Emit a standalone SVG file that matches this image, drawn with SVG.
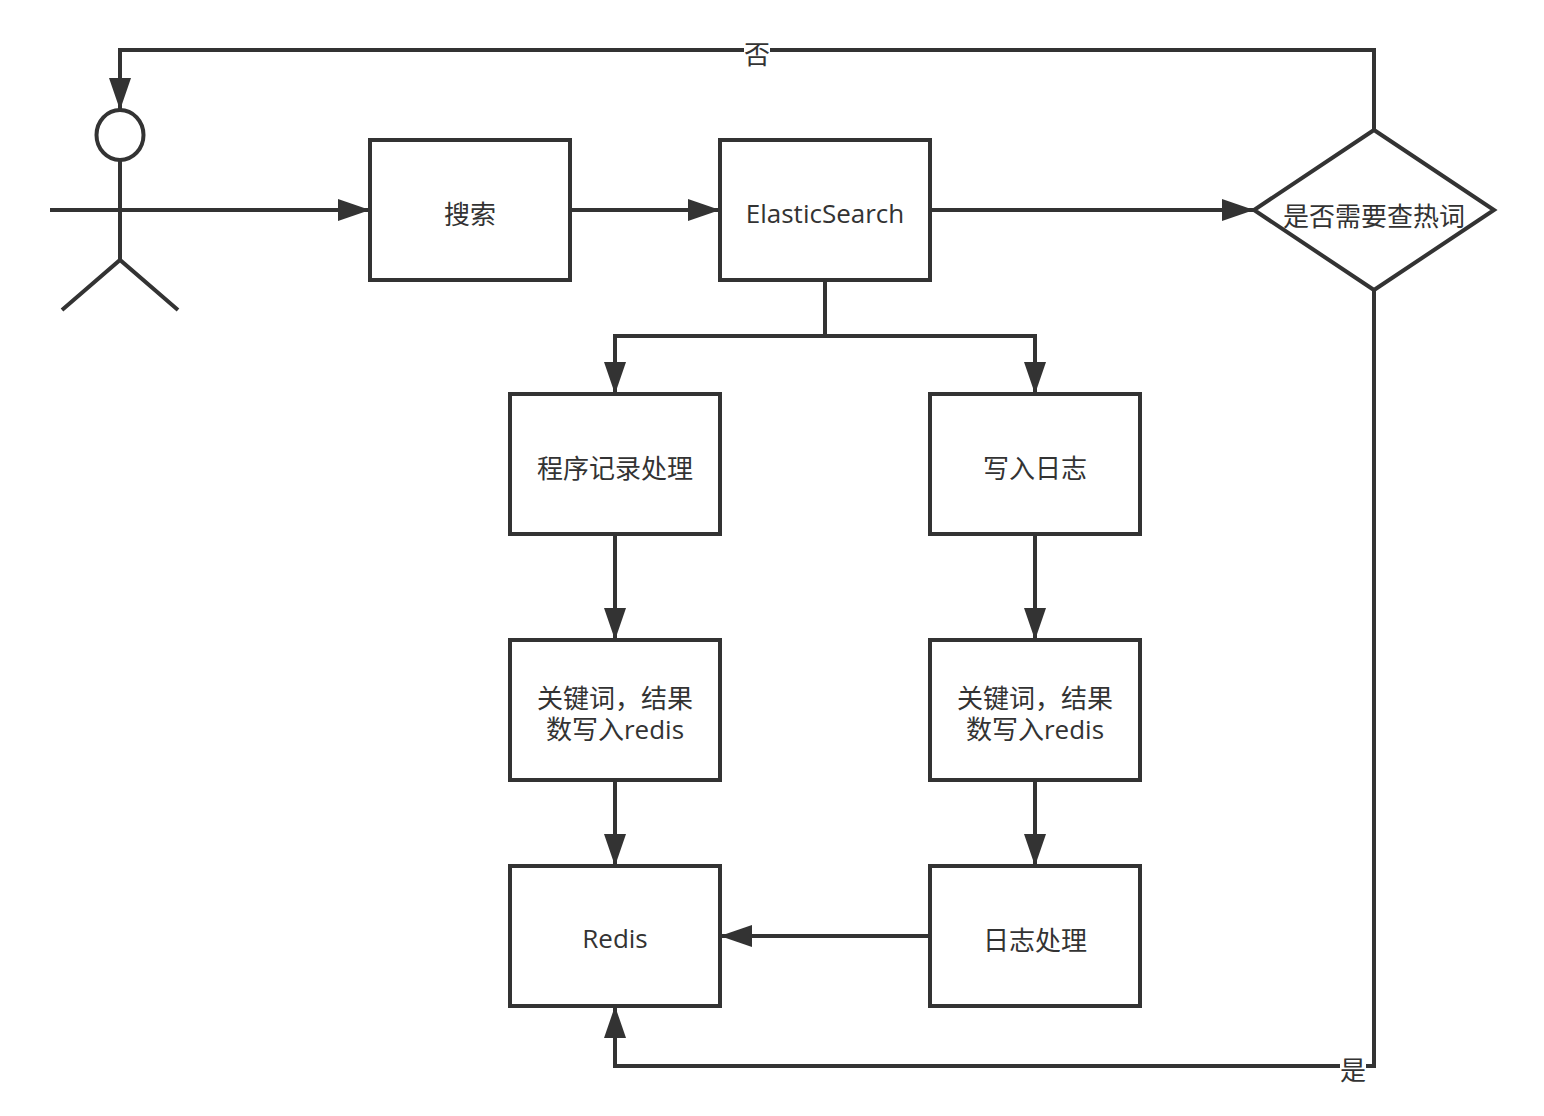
<svg xmlns="http://www.w3.org/2000/svg" width="1544" height="1116" viewBox="0 0 1544 1116">
<defs>
<style>
.s{fill:#fff;stroke:#333;stroke-width:4}
.c{fill:none;stroke:#333;stroke-width:4}
text{font-family:"Open Sans","Noto Sans CJK SC",sans-serif;font-size:26px;fill:#333;text-anchor:middle}
</style>
<marker id="a" markerUnits="userSpaceOnUse" markerWidth="34" markerHeight="24" refX="32" refY="12" orient="auto"><path d="M0 1L32 12L0 23Z" fill="#333"/></marker>
</defs>
<rect width="1544" height="1116" fill="#fff"/>
<g id="connectors">
<path class="c" d="M1374 130V50H120V110" marker-end="url(#a)"/>
<path class="c" d="M120 210H370" marker-end="url(#a)"/>
<path class="c" d="M570 210H720" marker-end="url(#a)"/>
<path class="c" d="M930 210H1254" marker-end="url(#a)"/>
<path class="c" d="M825 280V336H615V394" marker-end="url(#a)"/>
<path class="c" d="M825 280V336H1035V394" marker-end="url(#a)"/>
<path class="c" d="M615 534V640" marker-end="url(#a)"/>
<path class="c" d="M1035 534V640" marker-end="url(#a)"/>
<path class="c" d="M615 780V866" marker-end="url(#a)"/>
<path class="c" d="M1035 780V866" marker-end="url(#a)"/>
<path class="c" d="M930 936H720" marker-end="url(#a)"/>
<path class="c" d="M1374 290V1066H615V1006" marker-end="url(#a)"/>
</g>
<g id="edge-no"><rect x="744" y="40" width="26" height="26" fill="#fff"/><text x="757" y="64">否</text></g>
<g id="edge-yes"><rect x="1340" y="1056" width="26" height="26" fill="#fff"/><text x="1353" y="1080">是</text></g>
<g id="actor">
<ellipse class="s" cx="120" cy="135" rx="23.5" ry="25"/>
<path class="c" d="M120 160V260M50 210H190M62 310L120 260L178 310"/>
</g>
<g id="search"><rect class="s" x="370" y="140" width="200" height="140"/><text x="470" y="224">搜索</text></g>
<g id="es"><rect class="s" x="720" y="140" width="210" height="140"/><text x="825" y="223">ElasticSearch</text></g>
<g id="decision"><path class="s" d="M1374 130L1494 210L1374 290L1254 210Z"/><text x="1374" y="226">是否需要查热词</text></g>
<g id="proc"><rect class="s" x="510" y="394" width="210" height="140"/><text x="615" y="478">程序记录处理</text></g>
<g id="log"><rect class="s" x="930" y="394" width="210" height="140"/><text x="1035" y="478">写入日志</text></g>
<g id="kw1"><rect class="s" x="510" y="640" width="210" height="140"/><text x="615" y="708">关键词，结果<tspan x="615" y="739">数写入redis</tspan></text></g>
<g id="kw2"><rect class="s" x="930" y="640" width="210" height="140"/><text x="1035" y="708">关键词，结果<tspan x="1035" y="739">数写入redis</tspan></text></g>
<g id="redis"><rect class="s" x="510" y="866" width="210" height="140"/><text x="615" y="948">Redis</text></g>
<g id="logproc"><rect class="s" x="930" y="866" width="210" height="140"/><text x="1035" y="950">日志处理</text></g>
</svg>
